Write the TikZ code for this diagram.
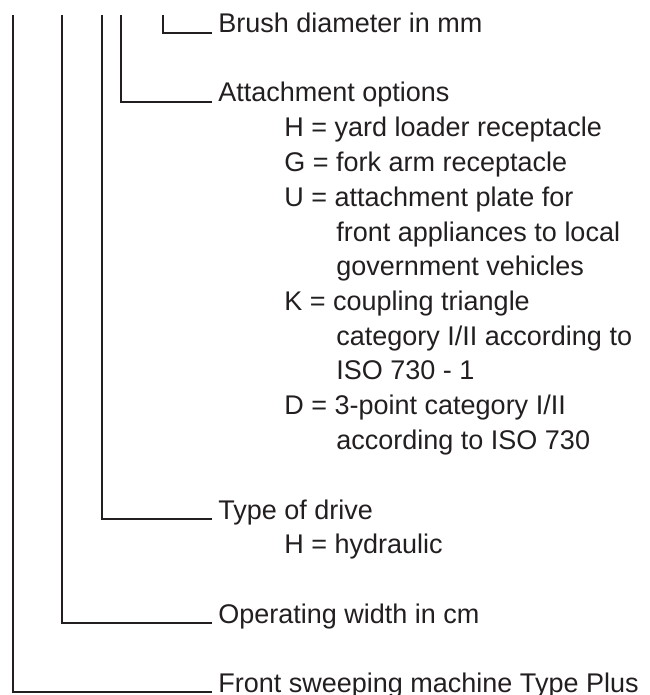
\documentclass[tikz,border=0pt]{standalone}
\usepackage{fontspec}
\setmainfont{Liberation Sans}
\usetikzlibrary{positioning}
\definecolor{ink}{HTML}{231F20}

\begin{document}
\begin{tikzpicture}[x=0.5pt,y=-0.5pt,auto]
\useasboundingbox (0,0) rectangle (649,695);
\begin{scope}
\tikzstyle{head}=[anchor=base west, inner xsep=3pt, inner ysep=0pt, text=ink, font=\fontsize{13.5}{16}\selectfont]
\tikzstyle{opt}=[head, inner xsep=0pt, node distance=17.35pt]
\tikzstyle{lead}=[draw=ink, line width=1.35pt]
% tops of the leader lines
\coordinate (t1) at (13,15);
\coordinate (t2) at (62,15);
\coordinate (t3) at (102,15);
\coordinate (t4) at (121,15);
\coordinate (t5) at (163,15);
% headings
\node[head] (brush) at (212,33) {Brush diameter in mm};
\node[head] (attach) at (212,102) {Attachment options};
\node[head] (drive) at (212,519) {Type of drive};
\node[head] (width) at (212,623) {Operating width in cm};
\node[head] (front) at (212,692) {Front sweeping machine Type Plus};
% attachment options
\node[opt] (optH) at (284,137) {H = yard loader receptacle};
\node[opt] (optG) [below=of optH.base west, anchor=base west] {G = fork arm receptacle};
\node[opt] (optU) [below=of optG.base west, anchor=base west] {U = attachment plate for};
\node[opt] (optU2) [below=of optU.base west, anchor=base west, xshift=26pt] {front appliances to local};
\node[opt] (optU3) [below=of optU2.base west, anchor=base west] {government vehicles};
\node[opt] (optK) [below=of optU3.base west, anchor=base west, xshift=-26pt] {K = coupling triangle};
\node[opt] (optK2) [below=of optK.base west, anchor=base west, xshift=26pt] {category I/II according to};
\node[opt] (optK3) [below=of optK2.base west, anchor=base west] {ISO 730 - 1};
\node[opt] (optD) [below=of optK3.base west, anchor=base west, xshift=-26pt] {D = 3-point category I/II};
\node[opt] (optD2) [below=of optD.base west, anchor=base west, xshift=26pt] {according to ISO 730};
% drive
\node[opt] (hydr) at (284,553) {H = hydraulic};
% leaders
\draw[lead] (t1) |- (front.base west);
\draw[lead] (t2) |- (width.base west);
\draw[lead] (t3) |- (drive.base west);
\draw[lead] (t4) |- (attach.base west);
\draw[lead] (t5) |- (brush.base west);
\end{scope}
\end{tikzpicture}
\end{document}
